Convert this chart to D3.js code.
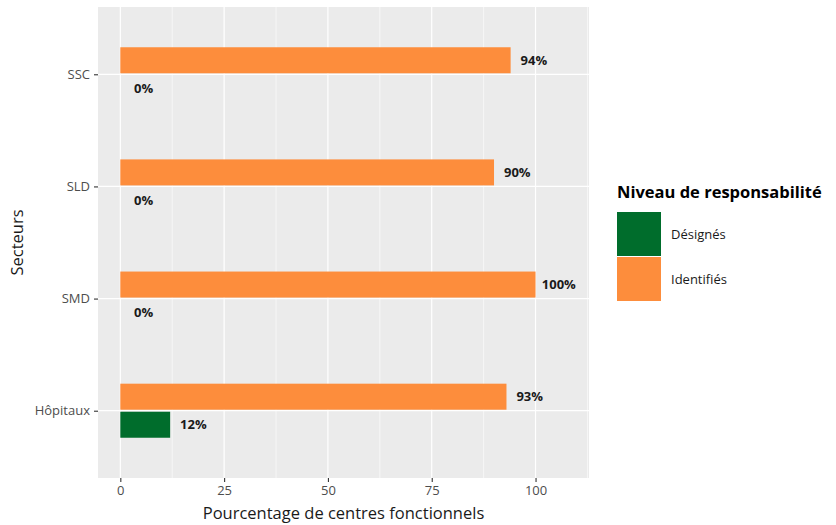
<!DOCTYPE html>
<html><head><meta charset="utf-8">
<script src="https://cdn.jsdelivr.net/npm/d3@7"></script>
<style>body{margin:0;background:#fff;} svg{display:block;font-family:"Open Sans",Lato,sans-serif;}</style>
</head><body>
<svg id="chart" width="836" height="525"></svg>
<script>
const categories = ["Hôpitaux", "SMD", "SLD", "SSC"];
const seriesNames = ["Désignés", "Identifiés"];
const designes = [12, 0, 0, 0];
const identifies = [93, 100, 90, 94];
const xTicks = [0, 25, 50, 75, 100];
const xMinor = [12.5, 37.5, 62.5, 87.5, 112.5];
const colors = {"Désignés": "#006D2C", "Identifiés": "#FD8D3C"};

const FONT = "'Open Sans', Lato, sans-serif";
const svg = d3.select("#chart");
const P = {left: 98, right: 589, top: 7, bottom: 478};

const x = d3.scaleLinear().domain([-5.375, 112.875]).range([P.left, P.right]);
const y = d3.scaleLinear().domain([0.4, 4.6]).range([P.bottom, P.top]);
const yCat = c => y(categories.indexOf(c) + 1);

svg.append("rect").attr("x", P.left).attr("y", P.top)
  .attr("width", P.right - P.left).attr("height", P.bottom - P.top).attr("fill", "#EBEBEB");

const grid = svg.append("g");
xMinor.forEach(v => grid.append("line").attr("x1", x(v)).attr("x2", x(v))
  .attr("y1", P.top).attr("y2", P.bottom).attr("stroke", "#fff").attr("stroke-width", 0.6));
xTicks.forEach(v => grid.append("line").attr("x1", x(v)).attr("x2", x(v))
  .attr("y1", P.top).attr("y2", P.bottom).attr("stroke", "#fff").attr("stroke-width", 1.2));
categories.forEach(c => grid.append("line").attr("x1", P.left).attr("x2", P.right)
  .attr("y1", yCat(c)).attr("y2", yCat(c)).attr("stroke", "#fff").attr("stroke-width", 1.2));

const rows = [];
categories.forEach((c, i) => {
  rows.push({cat: c, series: "Identifiés", value: identifies[i], off: -0.125});
  rows.push({cat: c, series: "Désignés", value: designes[i], off: 0.125});
});
const bw = 0.232;
const barH = Math.abs(y(0) - y(bw));
svg.append("g").selectAll("rect").data(rows).join("rect")
  .attr("x", x(0))
  .attr("y", d => y(categories.indexOf(d.cat) + 1 - d.off) - barH / 2)
  .attr("width", d => x(d.value) - x(0))
  .attr("height", barH)
  .attr("fill", d => colors[d.series]);

svg.append("g").selectAll("text").data(rows).join("text")
  .attr("x", d => x(d.value + 5.6))
  .attr("y", d => y(categories.indexOf(d.cat) + 1 - d.off))
  .attr("dy", "0.35em").attr("text-anchor", "middle")
  .attr("font-size", 13).attr("font-weight", "bold").attr("fill", "#1a1a1a")
  .text(d => d.value + "%");

// x axis
const xAxis = svg.append("g").attr("transform", `translate(0,${P.bottom})`)
  .call(d3.axisBottom(x).tickValues(xTicks).tickSize(4).tickPadding(4));
xAxis.select(".domain").remove();
xAxis.selectAll(".tick line").attr("stroke", "#333").attr("stroke-width", 1.1);
xAxis.selectAll(".tick text").attr("fill", "#4D4D4D").attr("font-size", 13)
  .attr("font-family", FONT);

// y axis
const yAxis = svg.append("g").attr("transform", `translate(${P.left},0)`)
  .call(d3.axisLeft(y).tickValues([1, 2, 3, 4]).tickFormat(v => categories[v - 1]).tickSize(4).tickPadding(4));
yAxis.select(".domain").remove();
yAxis.selectAll(".tick line").attr("stroke", "#333").attr("stroke-width", 1.1);
yAxis.selectAll(".tick text").attr("fill", "#4D4D4D").attr("font-size", 13)
  .attr("font-family", FONT);

svg.append("text").attr("x", (P.left + P.right) / 2).attr("y", 519)
  .attr("text-anchor", "middle").attr("font-size", 16.5).attr("fill", "#1a1a1a")
  .text("Pourcentage de centres fonctionnels");
svg.append("text").attr("transform", `translate(23,${(P.top + P.bottom) / 2}) rotate(-90)`)
  .attr("text-anchor", "middle").attr("font-size", 16.5).attr("fill", "#1a1a1a")
  .text("Secteurs");

// legend
const lg = svg.append("g").attr("transform", "translate(617,0)");
lg.append("text").attr("x", 0).attr("y", 198).attr("font-size", 16.5)
  .attr("font-weight", "bold").attr("fill", "#000").text("Niveau de responsabilité");
seriesNames.forEach((s, i) => {
  const ky = 212 + i * 45;
  lg.append("rect").attr("x", 0).attr("y", ky).attr("width", 44).attr("height", 44)
    .attr("fill", colors[s]);
  lg.append("text").attr("x", 54).attr("y", ky + 22).attr("dy", "0.35em")
    .attr("font-size", 13).attr("fill", "#1a1a1a").text(s);
});
</script>
</body></html>
